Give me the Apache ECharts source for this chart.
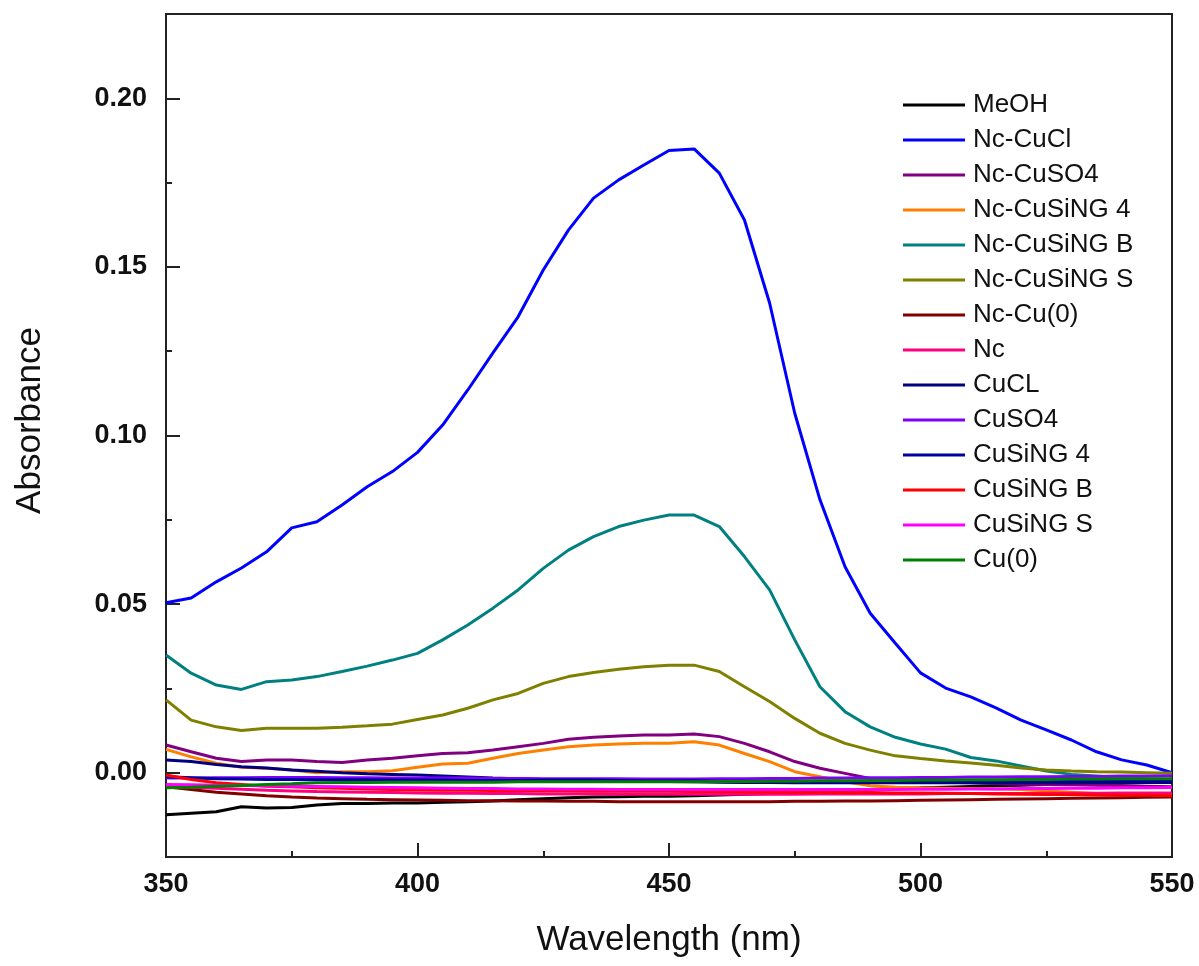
<!DOCTYPE html>
<html>
<head>
<meta charset="utf-8">
<script src="https://cdn.jsdelivr.net/npm/echarts@6/dist/echarts.min.js"></script>
<style>
html,body{margin:0;padding:0;background:#fff;}
#chart{width:1199px;height:966px;}
</style>
</head>
<body>
<div id="chart"></div>
<script>
// Wavelength (nm), 5 nm steps
const wavelengths = [350,355,360,365,370,375,380,385,390,395,400,405,410,415,420,425,430,435,440,445,450,455,460,465,470,475,480,485,490,495,500,505,510,515,520,525,530,535,540,545,550];

const seriesNames = ['MeOH','Nc-CuCl','Nc-CuSO4','Nc-CuSiNG 4','Nc-CuSiNG B','Nc-CuSiNG S','Nc-Cu(0)','Nc','CuCL','CuSO4','CuSiNG 4','CuSiNG B','CuSiNG S','Cu(0)'];
const seriesColors = ['#000000','#0000FF','#800080','#FF8000','#008080','#808000','#800000','#FF0080','#000080','#8000FF','#0000A0','#FF0000','#FF00FF','#008000'];

const MeOH = [-0.0125,-0.0120,-0.0116,-0.0101,-0.0105,-0.0103,-0.0096,-0.0091,-0.0091,-0.0090,-0.0090,-0.0088,-0.0086,-0.0084,-0.0080,-0.0077,-0.0074,-0.0072,-0.0071,-0.0070,-0.0070,-0.0068,-0.0066,-0.0064,-0.0062,-0.0060,-0.0057,-0.0054,-0.0050,-0.0047,-0.0045,-0.0043,-0.0041,-0.0039,-0.0037,-0.0035,-0.0033,-0.0031,-0.0030,-0.0029,-0.0028];
const NcCuCl = [0.0504,0.0518,0.0566,0.0607,0.0655,0.0726,0.0744,0.0794,0.0848,0.0893,0.0950,0.1031,0.1135,0.1245,0.1352,0.1491,0.1609,0.1704,0.1758,0.1802,0.1845,0.1850,0.1778,0.1639,0.1393,0.1066,0.0810,0.0611,0.0473,0.0384,0.0296,0.0251,0.0225,0.0192,0.0156,0.0127,0.0097,0.0062,0.0038,0.0023,0.0000];
const NcCuSO4 = [0.0082,0.0062,0.0043,0.0033,0.0038,0.0038,0.0033,0.0030,0.0038,0.0043,0.0050,0.0057,0.0059,0.0067,0.0077,0.0087,0.0099,0.0105,0.0109,0.0112,0.0112,0.0115,0.0107,0.0087,0.0062,0.0033,0.0013,-0.0002,-0.0017,-0.0022,-0.0026,-0.0028,-0.0030,-0.0032,-0.0034,-0.0035,-0.0036,-0.0037,-0.0038,-0.0040,-0.0042];
const NcCuSiNG4 = [0.0069,0.0047,0.0028,0.0016,0.0013,0.0008,0.0000,0.0003,0.0003,0.0006,0.0016,0.0026,0.0028,0.0043,0.0057,0.0067,0.0077,0.0082,0.0085,0.0087,0.0087,0.0092,0.0082,0.0057,0.0033,0.0003,-0.0012,-0.0027,-0.0039,-0.0043,-0.0045,-0.0046,-0.0047,-0.0048,-0.0050,-0.0054,-0.0058,-0.0062,-0.0065,-0.0066,-0.0067];
const NcCuSiNGB = [0.0349,0.0295,0.0260,0.0247,0.0270,0.0275,0.0285,0.0300,0.0316,0.0334,0.0354,0.0394,0.0438,0.0488,0.0542,0.0606,0.0660,0.0700,0.0730,0.0749,0.0764,0.0764,0.0730,0.0641,0.0542,0.0394,0.0255,0.0181,0.0136,0.0105,0.0085,0.0070,0.0045,0.0035,0.0020,0.0005,-0.0005,-0.0010,-0.0015,-0.0018,-0.0020];
const NcCuSiNGS = [0.0216,0.0156,0.0136,0.0125,0.0132,0.0132,0.0132,0.0135,0.0139,0.0144,0.0158,0.0171,0.0191,0.0216,0.0235,0.0265,0.0285,0.0297,0.0307,0.0314,0.0319,0.0319,0.0300,0.0255,0.0211,0.0161,0.0117,0.0087,0.0067,0.0050,0.0042,0.0035,0.0029,0.0022,0.0014,0.0008,0.0005,0.0003,0.0002,0.0000,-0.0002];
const NcCu0 = [-0.0042,-0.0050,-0.0058,-0.0063,-0.0068,-0.0072,-0.0075,-0.0077,-0.0079,-0.0080,-0.0081,-0.0082,-0.0083,-0.0083,-0.0084,-0.0084,-0.0085,-0.0085,-0.0086,-0.0086,-0.0086,-0.0086,-0.0086,-0.0086,-0.0086,-0.0085,-0.0085,-0.0084,-0.0084,-0.0083,-0.0082,-0.0081,-0.0080,-0.0079,-0.0078,-0.0077,-0.0076,-0.0075,-0.0074,-0.0073,-0.0072];
const Nc = [-0.0040,-0.0043,-0.0046,-0.0049,-0.0052,-0.0054,-0.0056,-0.0057,-0.0058,-0.0059,-0.0060,-0.0061,-0.0061,-0.0062,-0.0062,-0.0063,-0.0063,-0.0063,-0.0064,-0.0064,-0.0064,-0.0064,-0.0064,-0.0064,-0.0064,-0.0064,-0.0063,-0.0063,-0.0063,-0.0063,-0.0063,-0.0062,-0.0062,-0.0062,-0.0062,-0.0061,-0.0061,-0.0061,-0.0060,-0.0060,-0.0060];
const CuCL = [0.0038,0.0033,0.0024,0.0018,0.0014,0.0008,0.0004,0.0000,-0.0003,-0.0005,-0.0007,-0.0010,-0.0013,-0.0016,-0.0018,-0.0020,-0.0022,-0.0023,-0.0024,-0.0025,-0.0026,-0.0027,-0.0028,-0.0029,-0.0029,-0.0030,-0.0030,-0.0030,-0.0030,-0.0030,-0.0030,-0.0030,-0.0030,-0.0030,-0.0030,-0.0030,-0.0030,-0.0029,-0.0029,-0.0029,-0.0029];
const CuSO4 = [-0.0016,-0.0016,-0.0015,-0.0015,-0.0014,-0.0014,-0.0014,-0.0015,-0.0015,-0.0016,-0.0016,-0.0016,-0.0016,-0.0017,-0.0017,-0.0018,-0.0018,-0.0018,-0.0018,-0.0019,-0.0019,-0.0019,-0.0018,-0.0018,-0.0017,-0.0017,-0.0016,-0.0016,-0.0015,-0.0015,-0.0014,-0.0014,-0.0013,-0.0013,-0.0012,-0.0012,-0.0011,-0.0011,-0.0010,-0.0010,-0.0009];
const CuSiNG4 = [-0.0012,-0.0015,-0.0018,-0.0019,-0.0020,-0.0020,-0.0021,-0.0021,-0.0021,-0.0022,-0.0022,-0.0022,-0.0023,-0.0023,-0.0023,-0.0022,-0.0022,-0.0022,-0.0023,-0.0024,-0.0024,-0.0024,-0.0025,-0.0025,-0.0026,-0.0026,-0.0026,-0.0026,-0.0026,-0.0025,-0.0025,-0.0025,-0.0025,-0.0024,-0.0024,-0.0024,-0.0024,-0.0023,-0.0023,-0.0023,-0.0022];
const CuSiNGB = [-0.0007,-0.0020,-0.0030,-0.0035,-0.0040,-0.0042,-0.0045,-0.0046,-0.0048,-0.0050,-0.0051,-0.0052,-0.0052,-0.0053,-0.0053,-0.0054,-0.0054,-0.0055,-0.0055,-0.0055,-0.0055,-0.0056,-0.0056,-0.0057,-0.0057,-0.0058,-0.0058,-0.0059,-0.0059,-0.0060,-0.0060,-0.0061,-0.0062,-0.0063,-0.0064,-0.0065,-0.0065,-0.0066,-0.0067,-0.0067,-0.0068];
const CuSiNGS = [-0.0035,-0.0036,-0.0037,-0.0038,-0.0039,-0.0040,-0.0041,-0.0042,-0.0043,-0.0044,-0.0045,-0.0046,-0.0047,-0.0047,-0.0048,-0.0048,-0.0049,-0.0049,-0.0050,-0.0050,-0.0050,-0.0050,-0.0050,-0.0050,-0.0050,-0.0050,-0.0050,-0.0050,-0.0050,-0.0050,-0.0049,-0.0049,-0.0048,-0.0048,-0.0047,-0.0047,-0.0046,-0.0046,-0.0045,-0.0045,-0.0044];
const Cu0 = [-0.0045,-0.0043,-0.0040,-0.0038,-0.0035,-0.0033,-0.0030,-0.0029,-0.0029,-0.0028,-0.0028,-0.0028,-0.0028,-0.0028,-0.0027,-0.0027,-0.0027,-0.0027,-0.0027,-0.0027,-0.0027,-0.0027,-0.0026,-0.0026,-0.0025,-0.0025,-0.0024,-0.0024,-0.0023,-0.0023,-0.0022,-0.0022,-0.0021,-0.0021,-0.0020,-0.0020,-0.0019,-0.0019,-0.0018,-0.0018,-0.0018];

const seriesValues = [MeOH, NcCuCl, NcCuSO4, NcCuSiNG4, NcCuSiNGB, NcCuSiNGS, NcCu0, Nc, CuCL, CuSO4, CuSiNG4, CuSiNGB, CuSiNGS, Cu0];

// Axis ticks
const xTicks = [350,400,450,500,550];
const yMajorTicks = [0, 0.05, 0.10, 0.15, 0.20];
const yMinorTicks = [-0.025, 0.025, 0.075, 0.125, 0.175, 0.225];

const FONT = '"Liberation Sans", Arial, sans-serif';

const chart = echarts.init(document.getElementById('chart'), null, {renderer: 'canvas'});

const series = seriesNames.map((name, i) => ({
  name: name,
  type: 'line',
  showSymbol: false,
  symbol: 'none',
  smooth: false,
  animation: false,
  color: seriesColors[i],
  lineStyle: {width: 3, color: seriesColors[i]},
  data: wavelengths.map((w, k) => [w, seriesValues[i][k]])
}));

chart.setOption({
  backgroundColor: '#ffffff',
  animation: false,
  grid: {
    left: 166, right: 27, top: 14, bottom: 109,
    show: true, borderColor: '#222', borderWidth: 2, backgroundColor: 'transparent'
  },
  legend: {
    orient: 'vertical',
    left: 903, top: 92,
    padding: 0,
    itemWidth: 62, itemHeight: 3, itemGap: 9,
    icon: 'rect',
    data: seriesNames,
    textStyle: {fontFamily: FONT, fontSize: 26, lineHeight: 26, color: '#111', padding: [0,0,0,3]}
  },
  xAxis: {
    type: 'value',
    min: 350, max: 550, interval: 50,
    name: 'Wavelength (nm)',
    nameLocation: 'middle',
    nameGap: 66,
    nameTextStyle: {fontFamily: FONT, fontSize: 35, color: '#111'},
    axisLine: {show: true, onZero: false, lineStyle: {color: '#222', width: 2}},
    axisTick: {show: true, inside: true, length: 14, lineStyle: {color: '#222', width: 2}},
    minorTick: {show: true, splitNumber: 2, length: 6, lineStyle: {color: '#222', width: 2}},
    axisLabel: {fontFamily: FONT, fontSize: 27, fontWeight: 'bold', color: '#111', margin: 14,
      customValues: xTicks, formatter: v => String(v)},
    splitLine: {show: false}
  },
  yAxis: [{
    type: 'value',
    min: -0.025, max: 0.225,
    name: 'Absorbance',
    nameLocation: 'middle',
    nameGap: 118,
    nameRotate: 90,
    nameTextStyle: {fontFamily: FONT, fontSize: 35, color: '#111', padding: [0,0,0,30]},
    axisLine: {show: true, onZero: false, lineStyle: {color: '#222', width: 2}},
    axisTick: {show: true, inside: true, length: 14, lineStyle: {color: '#222', width: 2}, customValues: yMajorTicks},
    axisLabel: {fontFamily: FONT, fontSize: 27, fontWeight: 'bold', color: '#111', margin: 19,
      customValues: yMajorTicks, formatter: v => v.toFixed(2)},
    splitLine: {show: false}
  }, {
    type: 'value',
    min: -0.025, max: 0.225,
    position: 'left',
    axisLine: {show: false, onZero: false},
    axisTick: {show: true, inside: true, length: 6, lineStyle: {color: '#222', width: 2}, customValues: yMinorTicks},
    axisLabel: {show: false},
    splitLine: {show: false}
  }],
  series: series
});
</script>
</body>
</html>
